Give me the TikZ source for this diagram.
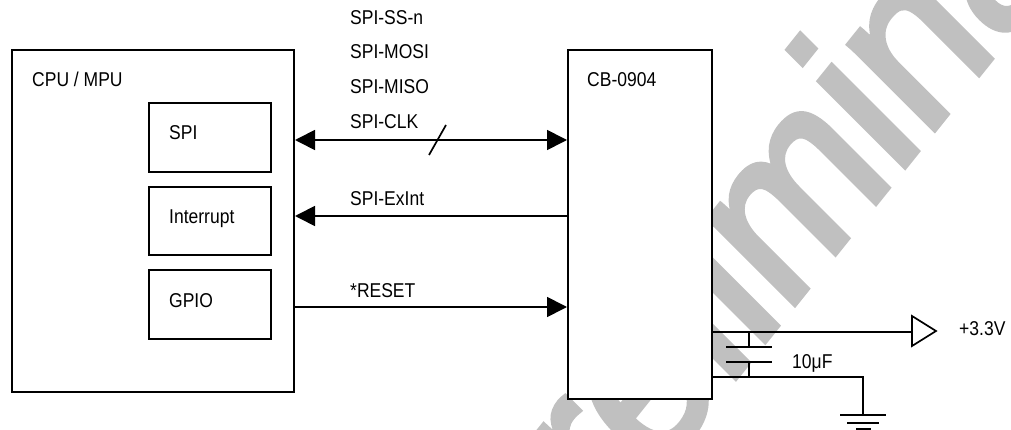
\documentclass[tikz,border=0pt]{standalone}
\usepackage{fontspec}
\setmainfont[FakeStretch=0.875]{Liberation Sans}
\newfontfamily\wmfont[FakeBold=3]{Liberation Sans}
\usetikzlibrary{arrows.meta}
\definecolor{wmgray}{HTML}{C0C0C0}
\tikzset{
  blockbox/.style={draw=black,line width=2pt,fill=white,inner sep=0pt,anchor=north west},
  lbl/.style={font=\fontsize{20pt}{22pt}\selectfont,inner sep=0pt,anchor=base west,text=black},
  wire/.style={draw=black,line width=1.7pt},
  sig/.style={wire,-{Triangle[length=20pt,width=20pt]}},
  sigboth/.style={wire,{Triangle[length=20pt,width=20pt]}-{Triangle[length=20pt,width=20pt]}},
}
\begin{document}
\begin{tikzpicture}[x=1pt,y=-1pt]
\useasboundingbox (0,0) rectangle (1011,430);
\begin{scope}
  \clip (0,0) rectangle (1011,430);
  \begin{scope}[cm={1.326,1.655,-1.600,1.600,(520pt,-646pt)}]
    \node[transform shape,inner sep=0pt,anchor=base west,text=wmgray,font=\wmfont\fontsize{100pt}{100pt}\selectfont] (wm) at (0pt,0pt) {Preliminary};
  \end{scope}
\end{scope}
% boxes
\node[blockbox,minimum width=282pt,minimum height=342pt] (cpu) at (11,49) {};
\node[blockbox,minimum width=122pt,minimum height=69pt] (spi) at (148,102) {};
\node[blockbox,minimum width=122pt,minimum height=68pt] (int) at (148,186) {};
\node[blockbox,minimum width=122pt,minimum height=69pt] (gpio) at (148,269) {};
\node[blockbox,minimum width=144pt,minimum height=349pt] (cb) at (567,49) {};
% labels
\node[lbl] (tcpu) at (32,87) {CPU / MPU};
\node[lbl] (tspi) at (169,140) {SPI};
\node[lbl] (tint) at (169,224) {Interrupt};
\node[lbl] (tgpio) at (169,307) {GPIO};
\node[lbl] (tcb) at (587,87) {CB-0904};
\node[lbl] (s1) at (350,25) {SPI-SS-n};
\node[lbl] (s2) at (350,59) {SPI-MOSI};
\node[lbl] (s3) at (350,94) {SPI-MISO};
\node[lbl] (s4) at (350,129) {SPI-CLK};
\node[lbl] (s5) at (350,206) {SPI-ExInt};
\node[lbl] (s6) at (350,297) {*RESET};
\node[lbl] (v33) at (959,335) {+3.3V};
\node[lbl] (cap) at (792,368) {10μF};
% signal connectors
\coordinate (a1) at (cpu.east |- 0,140);
\coordinate (b1) at (cb.west |- 0,140);
\coordinate (a2) at (cpu.east |- 0,216);
\coordinate (b2) at (cb.west |- 0,216);
\coordinate (a3) at (cpu.east |- 0,307);
\coordinate (b3) at (cb.west |- 0,307);
\draw[sigboth] (a1) -- (b1);
\draw[sig] (b2) -- (a2);
\draw[sig] (a3) -- (b3);
\coordinate (sl1) at (446,125);
\coordinate (sl2) at (429,155);
\draw[wire] (sl1) -- (sl2);
% power
\coordinate (p1) at (cb.east |- 0,332);
\coordinate (g1) at (cb.east |- 0,377);
\coordinate (bufin) at (912,332);
\draw[wire,fill=white,line join=miter] (912,316) -- (936,331) -- (912,346) -- cycle;
\draw[wire] (p1) -- (bufin);
\coordinate (ct) at (749,332);
\coordinate (cu) at (749,347);
\coordinate (cl) at (749,362);
\coordinate (cb2) at (749,377);
\draw[wire] (ct) -- (cu);
\draw[wire] (726,347) -- (772,347);
\draw[wire] (726,362) -- (772,362);
\draw[wire] (cl) -- (cb2);
\coordinate (gc) at (863,377);
\coordinate (gd) at (863,415);
\draw[wire] (g1) -- (gc) -- (gd);
\draw[wire] (840,415) -- (886,415);
\draw[wire] (847,423) -- (879,423);
\draw[wire] (856,429) -- (871,429);
\end{tikzpicture}
\end{document}
